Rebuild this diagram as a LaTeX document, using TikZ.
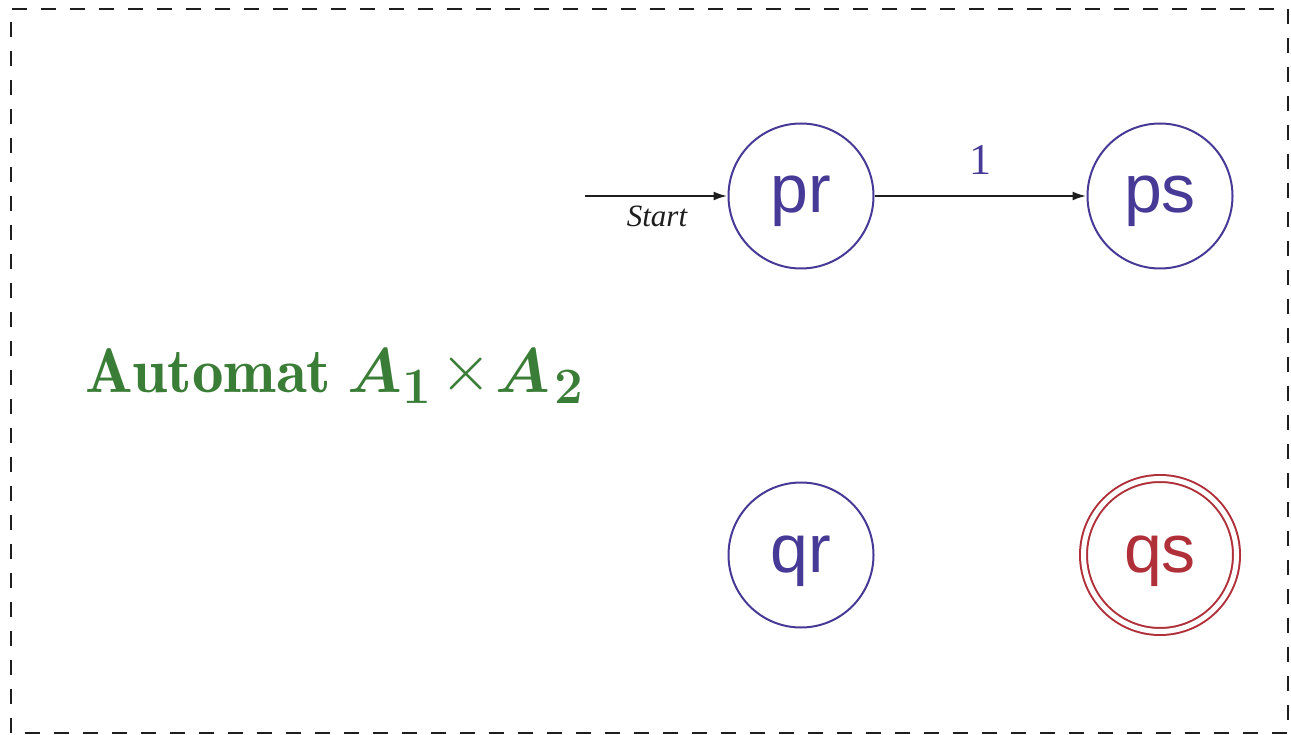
\documentclass[tikz,border=0pt]{standalone}
\usepackage{fix-cm}
\usepackage{fontspec}
\usepackage{bm}
\newfontfamily\arialfont{Liberation Sans}
\newfontfamily\timesfont{Liberation Serif}
\usetikzlibrary{arrows.meta}
\definecolor{stateblue}{RGB}{70,58,150}
\definecolor{statered}{RGB}{176,48,58}
\definecolor{titlegreen}{RGB}{58,125,54}
\definecolor{inkblack}{RGB}{30,30,30}
\newcommand\titlefont{\fontencoding{OT1}\fontfamily{cmr}\fontseries{b}\fontshape{n}\fontsize{63}{63}\selectfont}
\newcommand\subfont{\fontencoding{OT1}\fontfamily{cmr}\fontseries{b}\fontshape{n}\fontsize{51}{51}\selectfont}
\begin{document}
\begin{tikzpicture}[x=1pt,y=-1pt,
  statefont/.style={font=\arialfont\fontsize{68}{68}\selectfont,text height=36pt,text depth=2pt},
  state/.style={circle,draw=stateblue,line width=2pt,minimum size=145pt,inner sep=0pt,
    text=stateblue,statefont},
  accepting/.style={circle,draw=statered,line width=2pt,double=white,double distance=5pt,
    minimum size=153pt,inner sep=0pt,text=statered,statefont},
  trans/.style={draw=inkblack,line width=2.5pt,-{Latex[length=14pt,width=9pt]}},
  frame/.style={draw=inkblack,line width=2.5pt,dash pattern=on 15pt off 14pt},
  titlepart/.style={text=titlegreen,inner sep=0pt}]
\useasboundingbox (0,0) rectangle (1291,735);
\draw[frame] (11,733) -- (11,9) -- (1288,9) -- (1288,733) -- cycle;
\node[state] (pr) at (801,196) {pr};
\node[state] (ps) at (1160,196) {ps};
\node[state] (qr) at (801,555) {qr};
\node[accepting] (qs) at (1160,555) {qs};
\coordinate (start) at (585,196);
\draw[trans] (start) -- (pr);
\node[anchor=base,inner sep=0pt,text=inkblack,font=\timesfont\itshape\fontsize{31}{31}\selectfont] (startlbl) at (657,227) {Start};
\draw[trans] (pr) -- (ps);
\node[anchor=base,inner sep=0pt,text=stateblue,font=\timesfont\fontsize{44}{44}\selectfont] (onelbl) at (980,175) {1};
\node[titlepart,anchor=base west,font=\titlefont] (title) at (85,392) {Automat};
\node[titlepart,anchor=base west,font=\titlefont] (titleA1) at (347,392) {$\bm{A}$};
\node[titlepart,anchor=base east,font=\subfont] (titlesub1) at (431,403) {$\bm{1}$};
\node[titlepart,anchor=base,font=\fontsize{66}{66}\selectfont] (titletimes) at (466,391) {$\times$};
\node[titlepart,anchor=base west,font=\titlefont] (titleA2) at (495,392) {$\bm{A}$};
\node[titlepart,anchor=base east,font=\subfont] (titlesub2) at (583,403) {$\bm{2}$};
\end{tikzpicture}
\end{document}
